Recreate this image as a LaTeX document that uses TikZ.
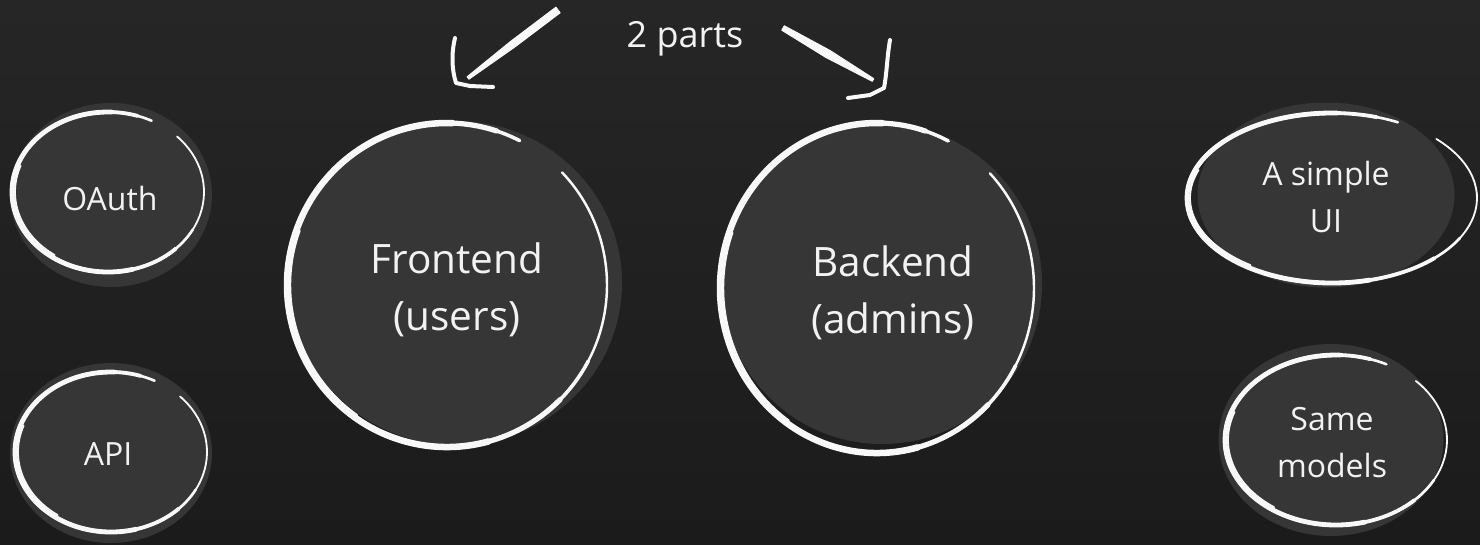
\documentclass[tikz,border=0pt]{standalone}
\usepackage{fontspec}
\setmainfont{Open Sans}
\usetikzlibrary{shapes.geometric,calc}
\definecolor{boardtop}{HTML}{262626}
\definecolor{boardbot}{HTML}{1B1B1B}
\definecolor{discgrey}{HTML}{363637}
\definecolor{chalkwhite}{HTML}{F8F8F8}
\definecolor{txtwhite}{HTML}{F2F2F2}
\tikzset{
  disc/.style={ellipse, fill=discgrey, draw=none, inner sep=0pt},
  chalk/.style={draw=chalkwhite, line cap=round, line join=round},
  chalkfill/.style={fill=chalkwhite, draw=chalkwhite, line width=1pt, line join=round},
  smalltxt/.style={text=txtwhite, font=\fontsize{32}{47}\selectfont, align=center, anchor=base, inner sep=0pt},
  bigtxt/.style={text=txtwhite, font=\fontsize{40.5}{57}\selectfont, align=center, anchor=base, inner sep=0pt},
}
% #1 node, #2 #3 offset, #4 rx, #5 ry, #6 max width
\newcommand{\chalkring}[6]{%
  \begin{scope}[shift={($(#1.center)+(#2,#3)$)}]
    \pgfmathsetmacro\wthin{0.38*#6}
    \pgfmathsetmacro\wmid{0.55*#6}
    \pgfmathsetmacro\wbig{0.8*#6}
    \draw[chalk,line width=\wthin pt] (44:#4 and #5) arc[start angle=44,end angle=-50,x radius=#4,y radius=#5];
    \draw[chalk,line width=\wmid pt] (-28:#4 and #5) arc[start angle=-28,end angle=-297,x radius=#4,y radius=#5];
    \draw[chalk,line width=\wbig pt] (-45:#4 and #5) arc[start angle=-45,end angle=-288,x radius=#4,y radius=#5];
    \draw[chalk,line width=#6 pt] (-75:#4 and #5) arc[start angle=-75,end angle=-272,x radius=#4,y radius=#5];
    \draw[chalk,line width=\wthin pt] (-125:#4-3 and #5-3) arc[start angle=-125,end angle=-200,x radius=#4-3,y radius=#5-3];
  \end{scope}}
\begin{document}
\begin{tikzpicture}[x=1pt,y=1pt]
  \useasboundingbox (0,0) rectangle (1480,-544);
  \shade[top color=boardtop, bottom color=boardbot] (0,0) rectangle (1480,-544);

  % discs
  \node[disc, minimum width=202pt, minimum height=184pt] (oauth) at (111,-195) {};
  \node[disc, minimum width=202pt, minimum height=180pt] (api) at (111,-453) {};
  \node[disc, minimum width=332pt, minimum height=324pt] (front) at (456,-283) {};
  \node[disc, minimum width=320pt, minimum height=320pt] (back) at (882,-284) {};
  \node[disc, minimum width=257pt, minimum height=185pt] (ui) at (1326,-195) {};
  \node[disc, minimum width=225pt, minimum height=192pt] (same) at (1331,-440) {};

  % chalk outlines
  \chalkring{oauth}{-3}{3}{96}{80}{4.8}
  \chalkring{api}{0}{1}{96}{80}{4.8}
  \chalkring{front}{-9}{-2}{160}{162}{6.5}
  \chalkring{back}{-5}{-4}{157}{165}{6.5}
  \chalkring{ui}{6}{-3}{145}{85}{4.8}
  \chalkring{same}{5}{0}{111}{85}{4.8}

  % texts (base anchor = baseline of the last line)
  \node[smalltxt] (oauthT) at (110,-210) {OAuth};
  \node[smalltxt] (apiT) at (108,-465) {API};
  \node[smalltxt] (uiT) at (1326,-232) {A simple\\UI};
  \node[smalltxt] (sameT) at (1332,-477) {Same\\models};
  \node[bigtxt] (frontT) at (457,-330) {Frontend\\(users)};
  \node[bigtxt] (backT) at (893,-333) {Backend\\(admins)};
  \node[text=txtwhite, font=\fontsize{36}{40}\selectfont, anchor=base, inner sep=0pt] (parts) at (685,-47) {2 parts};

  % chalk arrows
  \coordinate (la) at (558,-9);
  \coordinate (lb) at (468,-78);
  \coordinate (ra) at (783,-28);
  \coordinate (rb) at (873,-80);
  \fill[chalkfill] (555.9,-7.2) -- (560.1,-12.8) -- (515.1,-46.8) -- (468.9,-79.2) -- (467.1,-76.8) -- (510.9,-41.2) -- cycle;
  \draw[chalk, line width=4pt] (455,-38) .. controls (451,-55) and (452,-70) .. (456,-83) -- (470,-86) -- (493,-87);
  \fill[chalkfill] (784.3,-25.8) -- (830,-50.5) -- (873.8,-78.7) -- (872.3,-81.3) -- (826,-57.5) -- (781.8,-30.2) -- cycle;
  \draw[chalk, line width=4pt] (890,-40) .. controls (887,-57) and (887,-72) .. (884,-88) -- (870,-95) -- (848,-98);
\end{tikzpicture}
\end{document}
